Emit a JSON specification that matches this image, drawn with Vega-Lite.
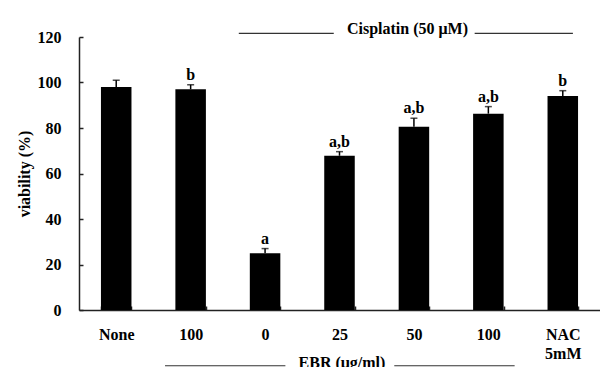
{
  "$schema": "https://vega.github.io/schema/vega-lite/v6.json",
  "width": 521,
  "height": 273,
  "autosize": "none",
  "padding": {"left": 79, "top": 37, "right": 0, "bottom": 57},
  "config": {"view": {"stroke": null}, "font": "Liberation Serif"},
  "datasets": {
    "bars": [
      {"cat": "None", "value": 98, "upper": 101, "letter": ""},
      {"cat": "100a", "value": 97, "upper": 99, "letter": "b"},
      {"cat": "0", "value": 25, "upper": 27, "letter": "a"},
      {"cat": "25", "value": 67.8, "upper": 69.6, "letter": "a,b"},
      {"cat": "50", "value": 80.6, "upper": 84.3, "letter": "a,b"},
      {"cat": "100b", "value": 86.3, "upper": 89.4, "letter": "a,b"},
      {"cat": "NAC", "value": 94.1, "upper": 96.4, "letter": "b"}
    ],
    "lines": [
      {"x0": 2.147, "x1": 3.423, "yv": 121.6},
      {"x0": 5.316, "x1": 6.636, "yv": 121.6},
      {"x0": 1.156, "x1": 2.773, "yv": -24.5},
      {"x0": 4.236, "x1": 5.853, "yv": -24.5}
    ],
    "notes": [
      {"xv": 4.413, "yv": 123.4, "text": "Cisplatin (50 μM)"},
      {"xv": 3.533, "yv": -23.5, "text": "EBR (μg/ml)"}
    ]
  },
  "resolve": {"scale": {"x": "independent"}},
  "layer": [
    {
      "data": {"name": "bars"},
      "encoding": {
        "x": {
          "field": "cat", "type": "nominal", "sort": null,
          "scale": {"paddingInner": 0.59, "paddingOuter": 0.295},
          "axis": {
            "title": null, "labelAngle": 0, "tickBand": "extent",
            "tickSize": -4, "tickColor": "#222", "tickWidth": 1.5,
            "domainColor": "#222", "domainWidth": 1.5,
            "labelFont": "Liberation Serif", "labelFontWeight": "bold", "labelFontSize": 16,
            "labelColor": "#000", "labelPadding": 20, "labelLineHeight": 19,
            "labelExpr": "datum.value == '100a' || datum.value == '100b' ? '100' : (datum.value == 'NAC' ? ['NAC', '5mM'] : datum.label)"
          }
        },
        "y": {
          "field": "value", "type": "quantitative",
          "scale": {"domain": [0, 120], "nice": false},
          "axis": {
            "title": "viability (%)", "values": [0, 20, 40, 60, 80, 100, 120],
            "grid": false, "tickSize": -4, "tickColor": "#222", "tickWidth": 1.5,
            "domainColor": "#222", "domainWidth": 1.5,
            "labelFont": "Liberation Serif", "labelFontWeight": "bold", "labelFontSize": 16,
            "labelColor": "#000", "labelPadding": 22,
            "titleFont": "Liberation Serif", "titleFontWeight": "bold", "titleFontSize": 16,
            "titleColor": "#000", "titleX": -47
          }
        }
      },
      "layer": [
        {"mark": {"type": "bar", "color": "#000"}},
        {"mark": {"type": "rule", "color": "#000", "strokeWidth": 1.5}, "encoding": {"y2": {"field": "upper"}}},
        {"mark": {"type": "tick", "color": "#000", "size": 7, "thickness": 1.5}, "encoding": {"y": {"field": "upper", "type": "quantitative"}}},
        {"mark": {"type": "text", "font": "Liberation Serif", "fontWeight": "bold", "fontSize": 16, "baseline": "alphabetic", "dy": -5, "color": "#000"},
         "encoding": {"y": {"field": "upper", "type": "quantitative"}, "text": {"field": "letter"}}}
      ]
    },
    {
      "data": {"name": "lines"},
      "mark": {"type": "rule", "color": "#333", "strokeWidth": 1.2},
      "encoding": {
        "x": {"field": "x0", "type": "quantitative", "scale": {"domain": [0, 7], "nice": false, "zero": false}, "axis": null},
        "x2": {"field": "x1"},
        "y": {"field": "yv", "type": "quantitative"}
      }
    },
    {
      "data": {"name": "notes"},
      "mark": {"type": "text", "font": "Liberation Serif", "fontWeight": "bold", "fontSize": 16, "baseline": "middle", "color": "#000"},
      "encoding": {
        "x": {"field": "xv", "type": "quantitative", "scale": {"domain": [0, 7], "nice": false, "zero": false}, "axis": null},
        "y": {"field": "yv", "type": "quantitative"},
        "text": {"field": "text"}
      }
    }
  ]
}
